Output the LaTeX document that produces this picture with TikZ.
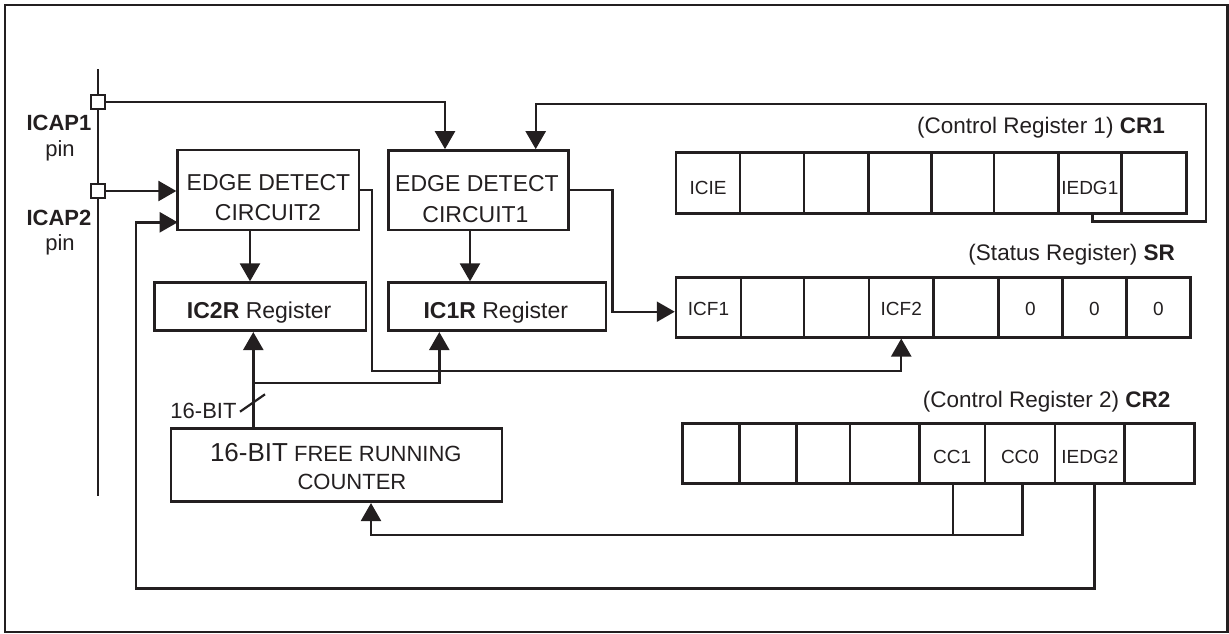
\documentclass[tikz,border=0pt]{standalone}
\usepackage{fontspec}
\setmainfont{Liberation Sans}
\usetikzlibrary{arrows.meta,calc}
\definecolor{ink}{HTML}{231F20}
\newcommand\myfs[1]{\fontsize{#1}{#1}\selectfont}
\tikzset{
  box/.style={draw=ink, line width=2.7pt, inner sep=0pt},
  cell/.style={draw=ink, line width=2.5pt, inner sep=0pt, text=ink, font=\myfs{19}, text depth=0pt},
  cellA/.style={cell, minimum height=60.6pt, text height=23.7pt},
  cellB/.style={cell, minimum height=60pt, text height=16.7pt},
  cellC/.style={cell, minimum height=60pt, text height=20.7pt},
  txt/.style={inner sep=0pt, text=ink, anchor=base},
  pinsq/.style={draw=ink, fill=white, line width=2.3pt, minimum size=14pt, inner sep=0pt},
  wire/.style={draw=ink, line width=2.4pt},
  arr/.style={draw=ink, line width=2.4pt, -{Triangle[length=18pt,width=20pt]}},
}
\begin{document}
\begin{tikzpicture}[x=1pt,y=-1pt]
\useasboundingbox (0,0) rectangle (1229,633);
% outer frame
\draw[draw=ink, line width=2.4pt] (5,5) rectangle (1227.3,631.7);

% pin line and pins
\coordinate (pintop) at (97.7,69);
\coordinate (pinbot) at (97.7,496);
\draw[wire] (pintop) -- (pinbot);
\node[pinsq] (icap1) at (97.7,101.7) {};
\node[pinsq] (icap2) at (97.7,191) {};
\node[txt, font=\myfs{22}\bfseries] (l1) at (59,130) {ICAP1};
\node[txt, font=\myfs{22}] (l2) at (60,156.7) {pin};
\node[txt, font=\myfs{22}\bfseries] (l3) at (59,225) {ICAP2};
\node[txt, font=\myfs{22}] (l4) at (60,250.7) {pin};

% boxes
\node[box, minimum width=181.3pt, minimum height=80pt] (e2) at (268.35,190) {};
\node[box, minimum width=180pt, minimum height=79.5pt] (e1) at (478.3,190.25) {};
\node[box, minimum width=211.7pt, minimum height=48pt] (ic2r) at (260.15,306.7) {};
\node[box, minimum width=217.7pt, minimum height=48pt] (ic1r) at (497.15,306.7) {};
\node[box, minimum width=331pt, minimum height=73.4pt] (cnt) at (336.5,465) {};

\node[txt, font=\myfs{23}] (e2t1) at (268.5,190) {EDGE DETECT};
\node[txt, font=\myfs{23}] (e2t2) at (268,220.7) {CIRCUIT2};
\node[txt, font=\myfs{23}] (e1t1) at (477,191.5) {EDGE DETECT};
\node[txt, font=\myfs{23}] (e1t2) at (475.5,222) {CIRCUIT1};
\node[txt, font=\myfs{23}] (ic2rt) at (259.2,318.3) {\textbf{IC2R} Register};
\node[txt, font=\myfs{23}] (ic1rt) at (495.8,318.3) {\textbf{IC1R} Register};
\node[txt, font=\myfs{22}] (cntt1) at (335.8,461.7) {{\myfs{26}16-BIT} FREE RUNNING};
\node[txt, font=\myfs{22}] (cntt2) at (352,489.3) {COUNTER};
\node[txt, font=\myfs{22}, anchor=base east] (bits) at (236.7,418.3) {16-BIT};

% register labels
\node[txt, font=\myfs{22.5}, anchor=base east] (cr1l) at (1165,133.3) {(Control Register 1) \textbf{CR1}};
\node[txt, font=\myfs{22.5}, anchor=base east] (srl) at (1175,260) {(Status Register) \textbf{SR}};
\node[txt, font=\myfs{22.5}, anchor=base east] (cr2l) at (1170.7,407.3) {(Control Register 2) \textbf{CR2}};

% CR1
\node[cellA, minimum width=64pt]   (cr1a) at (708,183) {ICIE};
\node[cellA, minimum width=64pt]   (cr1b) at (772,183) {};
\node[cellA, minimum width=64.3pt] (cr1c) at (836.15,183) {};
\node[cellA, minimum width=63.4pt] (cr1d) at (900,183) {};
\node[cellA, minimum width=62.3pt] (cr1e) at (962.85,183) {};
\node[cellA, minimum width=64.3pt] (cr1f) at (1026.15,183) {};
\node[cellA, minimum width=63pt]   (cr1g) at (1089.8,183) {IEDG1};
\node[cellA, minimum width=65pt]   (cr1h) at (1153.8,183) {};

% SR
\node[cellB, minimum width=65pt]   (sra) at (708.5,307.3) {ICF1};
\node[cellB, minimum width=63pt]   (srb) at (772.5,307.3) {};
\node[cellB, minimum width=65pt]   (src) at (836.5,307.3) {};
\node[cellB, minimum width=64.5pt] (srd) at (901.25,307.3) {ICF2};
\node[cellB, minimum width=64.8pt] (sre) at (965.9,307.3) {};
\node[cellB, minimum width=64pt]   (srf) at (1030.3,307.3) {0};
\node[cellB, minimum width=64pt]   (srg) at (1094.3,307.3) {0};
\node[cellB, minimum width=64.4pt] (srh) at (1158.5,307.3) {0};

% CR2
\node[cellC, minimum width=56.6pt] (cr2a) at (711,453.3) {};
\node[cellC, minimum width=57.4pt] (cr2b) at (768,453.3) {};
\node[cellC, minimum width=53.3pt] (cr2c) at (823.35,453.3) {};
\node[cellC, minimum width=69.3pt] (cr2d) at (884.65,453.3) {};
\node[cellC, minimum width=65.7pt] (cr2e) at (952.15,453.3) {CC1};
\node[cellC, minimum width=70pt]   (cr2f) at (1020,453.3) {CC0};
\node[cellC, minimum width=69.7pt] (cr2g) at (1089.85,453.3) {IEDG2};
\node[cellC, minimum width=70pt]   (cr2h) at (1159.7,453.3) {};

% connectors
\draw[arr] (icap1.east) -| ([xshift=-33.3pt]e1.north);
\draw[arr] (icap2.east) -- (icap2.east -| e2.west);
\coordinate (lb) at (135.7,588.3);
\coordinate (e2in2) at (177.7,222.3);
\draw[arr] ([xshift=4.8pt]cr2g.south) |- (lb) |- (e2in2);
\draw[arr] ([xshift=-18.35pt]e2.south) -- ([xshift=-18.35pt]e2.south |- ic2r.north);
\draw[arr] ([xshift=-8.3pt]e1.south) -- ([xshift=-8.3pt]e1.south |- ic1r.north);
\coordinate (k1) at (612.3,311.7);
\draw[arr] (e1.east) -| (k1) -- (k1 -| sra.west);
\coordinate (k2) at (371.7,370.7);
\draw[arr] (e2.east) -| (k2) -| (srd.south);
\coordinate (k3) at (1205.7,104);
\draw[arr] ([xshift=2.5pt]cr1g.south) -- ++(0,7) -| (k3) -| ([xshift=57.4pt]e1.north);
\coordinate (cj) at (253.3,382.7);
\draw[arr] ([xshift=-83.2pt]cnt.north) -- (cj) -- (cj |- ic2r.south);
\draw[arr] (cj) -| ([xshift=-57.85pt]ic1r.south);
\draw[line width=2.2pt, draw=ink] ($(cj)+(-13.3,29)$) -- ($(cj)+(11.7,11.6)$);
\coordinate (ccj) at (1022.3,535);
\draw[arr] ([xshift=2.3pt]cr2f.south) -- (ccj) -| ([xshift=34.5pt]cnt.south);
\draw[wire] ([xshift=0.85pt]cr2e.south) -- ([xshift=0.85pt]cr2e.south |- ccj);
\end{tikzpicture}
\end{document}
